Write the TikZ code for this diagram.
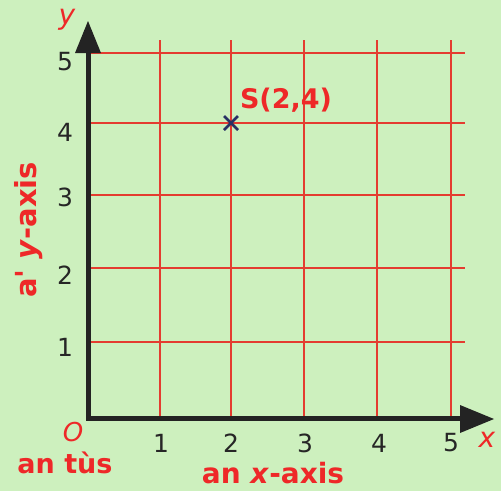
\documentclass[tikz,border=0pt]{standalone}
\usepackage{fontspec}
\setmainfont{DejaVu Sans}
\definecolor{bgreen}{RGB}{205,240,190}
\definecolor{gridred}{RGB}{228,60,48}
\definecolor{labred}{RGB}{238,40,40}
\definecolor{crossblue}{RGB}{40,48,100}
\definecolor{axisblack}{RGB}{35,35,35}
\begin{document}
\begin{tikzpicture}[x=1pt,y=-1pt,
  gridline/.style={draw=gridred, line width=1.4pt},
  axisline/.style={draw=axisblack, line width=5pt},
  arrowhead/.style={fill=axisblack},
  ticklab/.style={font=\fontsize{25}{25}\selectfont, text=black!85, inner sep=0pt},
  redlab/.style={font=\bfseries\fontsize{27}{27}\selectfont, text=labred, inner sep=0pt},
  varlab/.style={font=\itshape\fontsize{28}{28}\selectfont, text=labred, inner sep=0pt},
  crossline/.style={draw=crossblue, line width=2.6pt}]
\fill[bgreen] (0,0) rectangle (501,491);
\useasboundingbox (0,0) rectangle (501,491);
% grid
\foreach \x/\n in {160/1,231/2,304/3,377/4,451/5}{
  \coordinate (vt\n) at (\x,40);
  \coordinate (vb\n) at (\x,418);
  \draw[gridline] (vt\n) -- (vb\n);
}
\foreach \y/\n in {342/1,268/2,195/3,123/4,53/5}{
  \coordinate (hl\n) at (88,\y);
  \coordinate (hr\n) at (465,\y);
  \draw[gridline] (hl\n) -- (hr\n);
}
% axes
\coordinate (O) at (88,418);
\coordinate (ybase) at (88,52);
\coordinate (xbase) at (461,418);
\draw[axisline] (88,420.5) -- (ybase);
\draw[axisline] (O) -- (xbase);
\fill[arrowhead] (88,21) -- (75,53) -- (101,53) -- cycle;
\fill[arrowhead] (494,419) -- (460,405) -- (460,433) -- cycle;
% tick labels
\foreach \x/\n in {161/1,231/2,305/3,379/4,451/5}{
  \node[ticklab] (xl\n) at (\x,443) {\n};
}
\foreach \y/\n in {347/1,275/2,197/3,132/4,62/5}{
  \node[ticklab] (yl\n) at (65,\y) {\n};
}
% variable labels
\node[varlab] (ylab) at (67,20) {y};
\node[varlab] (xlab) at (487,440) {x};
\node[varlab, font=\itshape\fontsize{26}{26}\selectfont] (olab) at (73,432) {O};
% red labels
\node[redlab] (origin) at (65,463) {an tùs};
\node[redlab, font=\bfseries\fontsize{28}{28}\selectfont] (xaxis) at (273,473) {an \textit{x}-axis};
\node[redlab, rotate=90, font=\bfseries\fontsize{29}{29}\selectfont] (yaxis) at (29,230) {a\textquotesingle{} \textit{y}-axis};
\node[redlab] (S) at (286,100) {S(2,4)};
% point
\coordinate (P) at (231,123);
\draw[crossline] ([shift={(-7,-7)}]P) -- ([shift={(7,7)}]P);
\draw[crossline] ([shift={(-7,7)}]P) -- ([shift={(7,-7)}]P);
\end{tikzpicture}
\end{document}
